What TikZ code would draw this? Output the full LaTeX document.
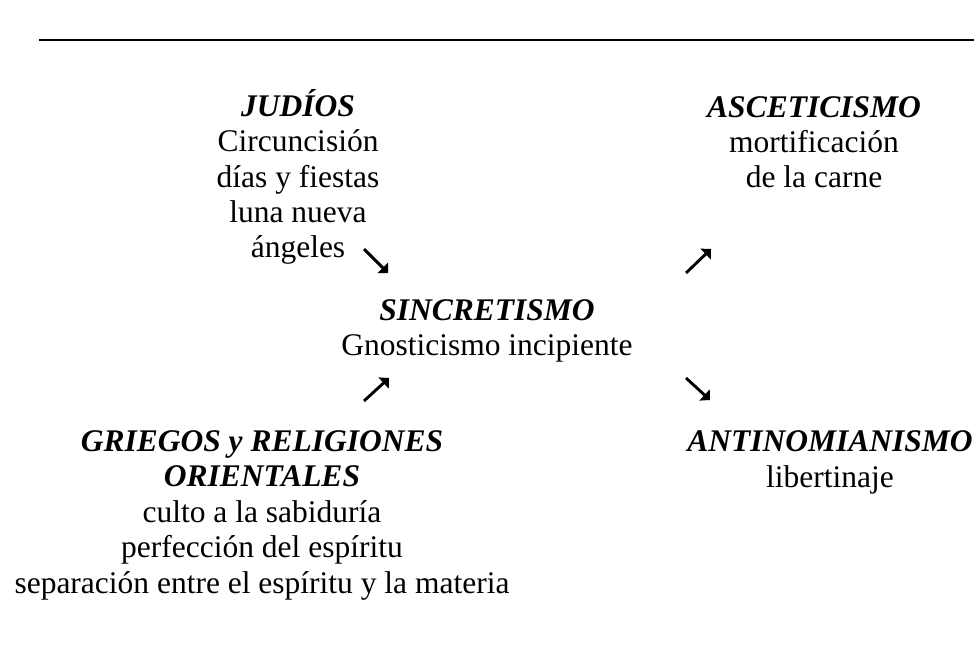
\documentclass[tikz,border=0pt]{standalone}
\usepackage{fontspec}
\setmainfont{Liberation Serif}
\usepackage{tikz}
\usetikzlibrary{arrows.meta}
\tikzset{
  block/.style={align=center,inner sep=0pt,anchor=base,
    font=\fontsize{12}{13.5}\selectfont},
  flecha/.style={line width=1.1pt,-{Triangle[angle=90:4pt]}},
}
\newcommand{\tit}[1]{\textbf{\textit{#1}}}

\begin{document}
\begin{tikzpicture}[x=0.381pt,y=-0.381pt]
    \useasboundingbox (0,0) rectangle (974,670);
    \draw[line width=0.8pt] (39,40) -- (974,40);

    % base = baseline of the last line
    \path
    (298,258) node[block] (judios) {\tit{JUDÍOS}\\ Circuncisión\\ días y fiestas\\ luna nueva\\ ángeles}
    (814,188) node[block] (ascet) {\tit{ASCETICISMO}\\ mortificación\\ de la carne}
    (487,356) node[block] (sincret) {\tit{SINCRETISMO}\\ Gnosticismo incipiente}
    (262,593) node[block] (griegos) {\tit{GRIEGOS y RELIGIONES}\\ \tit{ORIENTALES}\\ culto a la sabiduría\\ perfección del espíritu\\ separación entre el espíritu y la materia}
    (830,487) node[block] (antinom) {\tit{ANTINOMIANISMO}\\ libertinaje}
    ;

    \path
    (364,249) coordinate (j1) (388,273) coordinate (j2)
    (686,273) coordinate (a1) (711,249) coordinate (a2)
    (364,401) coordinate (g1) (389,378) coordinate (g2)
    (686,378) coordinate (n1) (710,400) coordinate (n2)
    ;
    \draw[flecha] (j1) -- (j2);
    \draw[flecha] (a1) -- (a2);
    \draw[flecha] (g1) -- (g2);
    \draw[flecha] (n1) -- (n2);
  \end{tikzpicture}
\end{document}
